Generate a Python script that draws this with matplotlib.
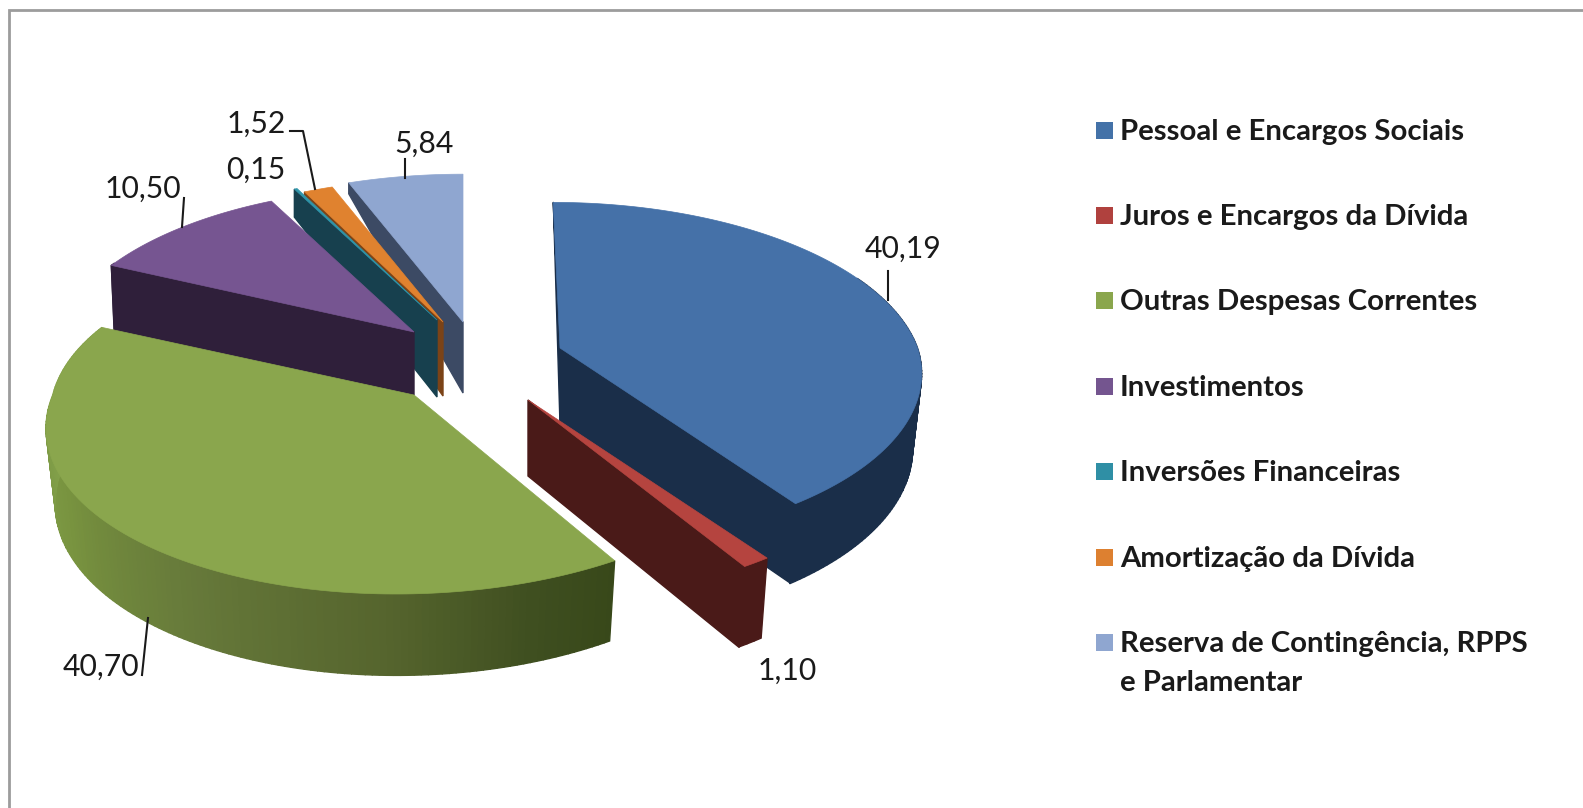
import matplotlib

matplotlib.use("Agg")
import matplotlib.pyplot as plt
import numpy as np
from matplotlib.colors import LinearSegmentedColormap

categories = [
    "Pessoal e Encargos Sociais",
    "Juros e Encargos da Dívida",
    "Outras Despesas Correntes",
    "Investimentos",
    "Inversões Financeiras",
    "Amortização da Dívida",
    "Reserva de Contingência, RPPS\ne Parlamentar",
]
values = [40.19, 1.10, 40.70, 10.50, 0.15, 1.52, 5.84]

# slice styles, all in pixels of the picture
top_colors = ["#4571a8", "#b5443f", "#8aa64d", "#765591", "#2f95aa", "#e0822f", "#8fa6d0"]
wall_colors = ["#1a2e49", "#4a1a18", "#3a4a1c", "#2f1f3a", "#17404e", "#7b4317", "#3c4a64"]
legend_colors = ["#4472a8", "#b0413e", "#8aa64d", "#74558f", "#2f8fa5", "#dd8030", "#8fa6d0"]
apex_x = [560, 528, 414, 414, 437, 443, 463]
apex_y = [348, 400, 395, 332, 320, 322, 322]
apex_wall = [77, 76, 0, 63, 77, 74, 71]
radius_scale = [0.985, 1.0, 0.995, 0.98, 0.98, 0.97, 1.0]
skew_back = [0.047, 0, 0.07, 0, 0, 0, 0]
skew_front = [0, 0, -0.09, 0, 0, 0, 0]
converge = [0.025, 0.025, 0.025, 0.01, 0, 0, 0]
start_wall_outer = [0, None, None, 66, 28, 10, 11]
end_wall_outer = [79, 81, None, None, None, None, None]

RX, RY, PERSPECTIVE = 363, 170, 0.15
SIDE_H = 74

green_side = LinearSegmentedColormap.from_list(
    "green_side",
    [(0, "#82a04a"), (0.25, "#78933f"), (0.5, "#66793a"),
     (0.74, "#55642d"), (0.9, "#3f4f20"), (1, "#38481a")],
)

label_pos = [(903, 249), (787, 671), (101, 667), (143, 189), (256, 170), (256, 124), (424, 144)]
leaders = [
    [(888, 271), (888, 300)],
    None,
    [(142, 675), (148, 618)],
    [(184, 198), (182, 227)],
    None,
    [(290, 131), (303, 131), (315, 189)],
    [(405, 159), (405, 178)],
]
legend_y = [131, 216, 301, 387, 472, 558, 643]


def project(i, theta):
    u, v = np.sin(theta), -np.cos(theta)
    f = 1 / (1 - PERSPECTIVE * v)
    dx = RX * radius_scale[i] * u * f
    dy = RY * radius_scale[i] * v * f
    dx = dx + skew_back[i] * np.minimum(dy, 0) + skew_front[i] * np.maximum(dy, 0)
    return apex_x[i] + dx, apex_y[i] + dy, v


def bottom_of(i, xs, ys, vs):
    # bottom edge of the side, verticals lean in towards the apex
    bx = xs - converge[i] * (xs - apex_x[i])
    by = ys + SIDE_H * (1 + 0.1 * vs)
    return bx, by


def draw_slice(ax, i, start, end):
    thetas = np.linspace(start, end, max(int((end - start) * 60), 2))
    xs, ys, vs = project(i, thetas)
    bx, by = bottom_of(i, xs, ys, vs)
    front = vs >= -0.45

    # outer side, only the part facing the viewer
    for k in range(len(thetas) - 1):
        if not (front[k] and front[k + 1]):
            continue
        color = wall_colors[i]
        if i == 2:
            t = (np.radians(270) - thetas[k]) / (np.radians(270) - start)
            color = green_side(np.clip(t, 0, 1))
        ax.fill(
            [xs[k], xs[k + 1], bx[k + 1], bx[k]],
            [ys[k], ys[k + 1], by[k + 1], by[k]],
            color=color,
            lw=1.0,
        )

    for outer, idx in ((start_wall_outer[i], 0), (end_wall_outer[i], -1)):
        if outer is None:
            continue
        ax.fill(
            [xs[idx], apex_x[i], apex_x[i], bx[idx]],
            [ys[idx], apex_y[i], apex_y[i] + apex_wall[i], ys[idx] + outer],
            color=wall_colors[i],
            lw=1.0,
        )

    ax.fill(
        np.r_[apex_x[i], xs],
        np.r_[apex_y[i], ys],
        color=top_colors[i],
        lw=0.5,
    )


def plot_chart(output_path):
    plt.rcParams["font.family"] = ["Lato", "DejaVu Sans"]
    fig = plt.figure(figsize=(15.83, 8.08), dpi=100)
    ax = fig.add_axes([0, 0, 1, 1])
    ax.set_xlim(0, 1583)
    ax.set_ylim(808, 0)
    ax.axis("off")

    ax.plot([9, 9, 1583], [808, 10, 10], color="#9c9c9c", lw=2.0, solid_joinstyle="miter")

    edges = np.radians(np.r_[0, np.cumsum(values)] / sum(values) * 360)
    for i in (6, 5, 4, 3, 0, 1, 2):
        draw_slice(ax, i, edges[i], edges[i + 1])

    for i, value in enumerate(values):
        x, y = label_pos[i]
        ax.text(x, y, f"{value:.2f}".replace(".", ","), ha="center", va="center",
                fontsize=21.7, color="#1a1a1a")
        if leaders[i]:
            line_x, line_y = zip(*leaders[i])
            ax.plot(line_x, line_y, color="#1a1a1a", lw=1.5)

    for i, name in enumerate(categories):
        ax.fill(
            [1096, 1113, 1113, 1096],
            [legend_y[i] - 9, legend_y[i] - 9, legend_y[i] + 8, legend_y[i] + 8],
            color=legend_colors[i],
            lw=0,
        )
        for row, line in enumerate(name.split("\n")):
            ax.text(1120, legend_y[i] + 1 + row * 39, line, ha="left", va="center",
                    fontsize=21.2, fontweight="bold", color="#1a1a1a")

    fig.savefig(output_path, dpi=100)
    plt.close(fig)


if __name__ == "__main__":
    plot_chart("out.png")
